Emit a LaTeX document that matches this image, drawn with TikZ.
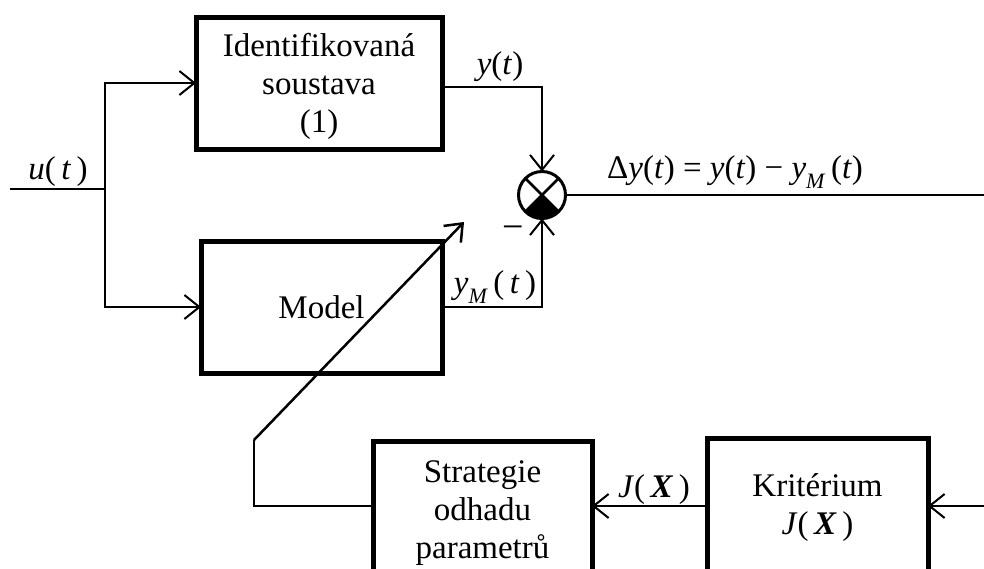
\documentclass[tikz,border=0pt]{standalone}
\usepackage{fontspec}
\setmainfont{Liberation Serif}
\usetikzlibrary{arrows.meta}
\newcommand{\vi}[1]{\textit{#1}}
\newcommand{\vX}{\textbf{\textit{X}}}
\newcommand{\yM}{\vi{y}\raisebox{-0.28em}{\fontsize{22}{22}\selectfont\vi{M}}\,}
\begin{document}
\begin{tikzpicture}[x=1pt,y=1pt,
  block/.style={draw,line width=5pt,inner sep=0pt,outer sep=0pt,align=center,
    font=\fontsize{33}{38}\selectfont},
  conn/.style={line width=2pt},
  arr/.style={conn,-{Straight Barb[length=15pt,width=24pt]}},
  lbl/.style={inner sep=0pt,font=\fontsize{33}{38}\selectfont}]
\useasboundingbox (0,0) rectangle (984,-568);
\clip (0,0) rectangle (984,-568);

% blocks (the struts lower the text a little inside the frames)
\node[block,minimum width=246pt,minimum height=132pt] (ident) at (319,-83)
  {\rule{0pt}{31pt}Identifikovaná\\soustava\\(1)};
\node[block,minimum width=241pt,minimum height=132pt] (model) at (321.5,-307) {Model};
\node[block,minimum width=219pt,minimum height=130pt] (strat) at (482.5,-506)
  {\rule{0pt}{36pt}Strategie\\odhadu\\parametrů};
\node[block,minimum width=221pt,minimum height=136pt] (krit) at (817.5,-506)
  {\rule{0pt}{27pt}Kritérium\\\vi{J}(\,\vX\,)};

% summing junction
\node[draw,circle,line width=3pt,minimum size=47pt,inner sep=0pt,outer sep=0pt] (sum) at (542,-195) {};
\fill (sum.center) -- (sum.-45) arc[start angle=-45,end angle=-135,radius=23.5pt] -- cycle;
\draw[line width=2.5pt] (sum.45) -- (sum.-135) (sum.135) -- (sum.-45);

% input branch
\coordinate (uin) at (10,-189);
\coordinate (split) at (105,-189);
\draw[conn] (uin) -- (split);
\draw[arr] (split) |- (ident.west);
\draw[arr] (split) |- (model.west);

% outputs into the junction
\draw[arr] ([yshift=-4pt]ident.east) -| (sum.north);
\draw[arr] (model.east) -| (sum.south);

% error signal
\coordinate (eout) at (984,-195);
\draw[line width=2.5pt] (sum.east) -- (eout);

% criterion and strategy
\coordinate (kin) at (984,-506);
\draw[arr] (kin) -- (krit.east);
\draw[arr] (krit.west) -- (strat.east);

% parameter adjustment arrow across the model
\coordinate (fb1) at (254,-506);
\coordinate (fb2) at (254,-440);
\coordinate (fbend) at (464,-222);
\draw[line width=1.5pt] (strat.west) -- (fb1) -- (fb2);
\draw[arr,line width=2.5pt] (fb2) -- (fbend);

% labels
\node[lbl] (lu) at (58,-172) {\vi{u}(\,\vi{t}\,)};
\node[lbl] (ly) at (500,-67) {\vi{y}(\vi{t})};
\node[lbl] (lym) at (495,-287) {\yM(\,\vi{t}\,)};
\node[lbl,font=\fontsize{38}{38}\selectfont] (lminus) at (513,-233) {−};
\node[lbl] (ldy) at (735,-172) {Δ\vi{y}(\vi{t}) = \vi{y}(\vi{t}) − \yM(\vi{t})};
\node[lbl] (lj) at (654,-490) {\vi{J}(\,\vX\,)};
\end{tikzpicture}
\end{document}
